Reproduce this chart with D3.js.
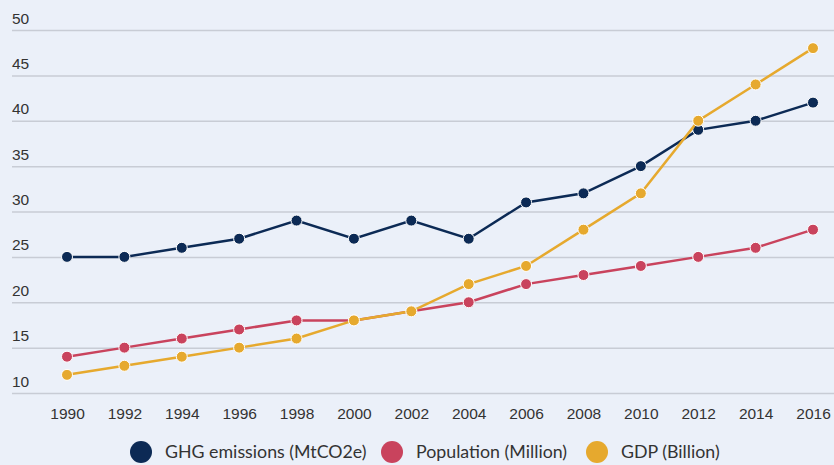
<!DOCTYPE html>
<html lang="en">
<head>
<meta charset="utf-8">
<title>GHG emissions, population and GDP</title>
<script src="https://cdnjs.cloudflare.com/ajax/libs/d3/7.8.5/d3.min.js"></script>
<style>
  body { margin: 0; background: #ebf0f9; }
  svg { display: block; font-family: "Lato", "Noto Sans", sans-serif; }
</style>
</head>
<body>
<script>
// data
var years = [1990, 1992, 1994, 1996, 1998, 2000, 2002, 2004, 2006, 2008, 2010, 2012, 2014, 2016];
var ghg = [25, 25, 26, 27, 29, 27, 29, 27, 31, 32, 35, 39, 40, 42];
var population = [14, 15, 16, 17, 18, 18, 19, 20, 22, 23, 24, 25, 26, 28];
var gdp = [12, 13, 14, 15, 16, 18, 19, 22, 24, 28, 32, 40, 44, 48];
var yTicks = [10, 15, 20, 25, 30, 35, 40, 45, 50];
var seriesNames = ["GHG emissions (MtCO2e)", "Population (Million)", "GDP (Billion)"];
var colors = ["#0c2a55", "#c9435d", "#e6a92e"];

var width = 834, height = 465;

var series = [ghg, population, gdp].map(function(vals, i) {
  return { name: seriesNames[i], color: colors[i],
           values: vals.map(function(v, j) { return { year: years[j], value: v }; }) };
});

var x = d3.scaleLinear().domain([1990, 2016]).range([67, 813]);
var y = d3.scaleLinear().domain([10, 50]).range([393, 30]);

var svg = d3.select("body").append("svg")
    .attr("width", width)
    .attr("height", height);

svg.append("rect").attr("width", width).attr("height", height).attr("fill", "#ebf0f9");

// gridlines + y labels
var grid = svg.append("g")
    .attr("transform", "translate(12,0)")
    .call(d3.axisRight(y).tickValues(yTicks).tickSize(width - 12).tickFormat(d3.format("d")));
grid.select(".domain").remove();
grid.selectAll(".tick line").attr("stroke", "#c8ccd5").attr("stroke-width", 1.5);
grid.selectAll(".tick text")
    .attr("x", 0).attr("dy", -7)
    .attr("text-anchor", "start")
    .attr("fill", "#333")
    .style("font-size", "15.5px");

// x axis labels
var xAxis = svg.append("g")
    .attr("transform", "translate(0,393)")
    .call(d3.axisBottom(x).tickValues(years).tickSize(0).tickPadding(15).tickFormat(d3.format("d")));
xAxis.select(".domain").remove();
xAxis.selectAll(".tick text").attr("fill", "#333").style("font-size", "15.5px");

var line = d3.line()
    .x(function(d) { return x(d.year); })
    .y(function(d) { return y(d.value); });

var groups = svg.selectAll(".series")
    .data(series)
    .enter().append("g")
      .attr("class", "series");

groups.append("path")
    .attr("d", function(d) { return line(d.values); })
    .attr("fill", "none")
    .attr("stroke", function(d) { return d.color; })
    .attr("stroke-width", 2.5);

groups.each(function(s) {
  d3.select(this).selectAll("circle")
    .data(s.values)
    .enter().append("circle")
      .attr("cx", function(d) { return x(d.year); })
      .attr("cy", function(d) { return y(d.value); })
      .attr("r", 5.5)
      .attr("fill", s.color)
      .attr("stroke", "#fff")
      .attr("stroke-width", 1);
});

// legend
var legendX = [141, 392, 597];
var legend = svg.selectAll(".legend")
    .data(series)
    .enter().append("g")
      .attr("class", "legend")
      .attr("transform", function(d, i) { return "translate(" + legendX[i] + ",452)"; });

legend.append("circle")
    .attr("r", 11)
    .attr("fill", function(d) { return d.color; });

legend.append("text")
    .attr("x", 24)
    .attr("dy", "0.35em")
    .attr("fill", "#333")
    .style("font-size", "17.8px")
    .text(function(d) { return d.name; });
</script>
</body>
</html>
